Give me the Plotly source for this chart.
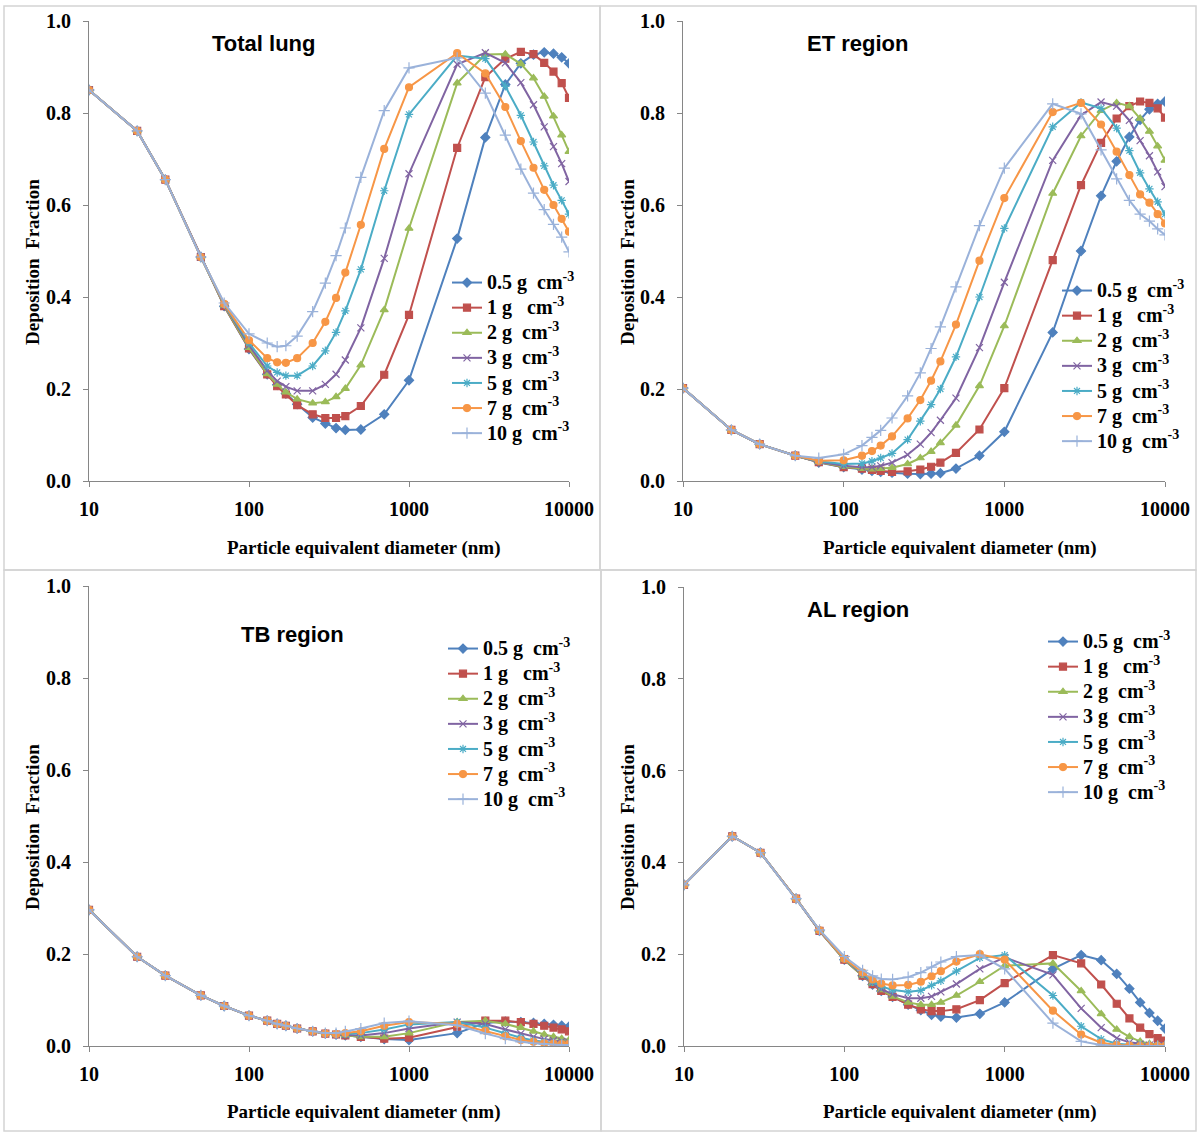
import plotly.graph_objects as go

W, H = 1199, 1133

diameter_nm = [10, 20, 30, 50, 70, 100, 130, 150, 170, 200, 250, 300, 350, 400, 500, 700,
               1000, 2000, 3000, 4000, 5000, 6000, 7000, 8000, 9000, 10000]

density_labels = ["0.5 g  cm<sup>-3</sup>", "1 g   cm<sup>-3</sup>", "2 g  cm<sup>-3</sup>",
                  "3 g  cm<sup>-3</sup>", "5 g  cm<sup>-3</sup>", "7 g  cm<sup>-3</sup>",
                  "10 g  cm<sup>-3</sup>"]

# Total lung
total_05 = [0.850, 0.761, 0.655, 0.487, 0.380, 0.287, 0.232, 0.209, 0.190, 0.167, 0.138, 0.125, 0.115, 0.111, 0.112, 0.145, 0.219, 0.527, 0.747, 0.862, 0.908, 0.927, 0.932, 0.929, 0.921, 0.908]
total_1 = [0.850, 0.761, 0.655, 0.487, 0.380, 0.288, 0.232, 0.206, 0.188, 0.165, 0.145, 0.137, 0.137, 0.141, 0.163, 0.231, 0.361, 0.724, 0.878, 0.918, 0.933, 0.928, 0.909, 0.890, 0.865, 0.833]
total_2 = [0.850, 0.761, 0.655, 0.487, 0.381, 0.290, 0.233, 0.210, 0.193, 0.178, 0.169, 0.172, 0.183, 0.201, 0.252, 0.372, 0.549, 0.865, 0.927, 0.928, 0.907, 0.876, 0.836, 0.793, 0.752, 0.716]
total_3 = [0.850, 0.761, 0.655, 0.487, 0.383, 0.295, 0.240, 0.217, 0.205, 0.196, 0.196, 0.210, 0.232, 0.263, 0.333, 0.484, 0.668, 0.906, 0.931, 0.909, 0.866, 0.818, 0.770, 0.727, 0.690, 0.651]
total_5 = [0.850, 0.761, 0.655, 0.487, 0.384, 0.300, 0.250, 0.236, 0.229, 0.229, 0.250, 0.283, 0.323, 0.370, 0.460, 0.631, 0.797, 0.925, 0.918, 0.858, 0.795, 0.737, 0.685, 0.643, 0.610, 0.580]
total_7 = [0.850, 0.761, 0.655, 0.487, 0.385, 0.306, 0.267, 0.258, 0.257, 0.267, 0.300, 0.346, 0.398, 0.453, 0.557, 0.722, 0.856, 0.930, 0.886, 0.813, 0.739, 0.681, 0.633, 0.600, 0.570, 0.542]
total_10 = [0.850, 0.761, 0.655, 0.487, 0.387, 0.320, 0.300, 0.292, 0.294, 0.315, 0.368, 0.430, 0.490, 0.550, 0.660, 0.805, 0.898, 0.920, 0.843, 0.752, 0.678, 0.626, 0.590, 0.558, 0.530, 0.498]

# ET region
et_05 = [0.202, 0.111, 0.080, 0.055, 0.040, 0.030, 0.025, 0.022, 0.020, 0.018, 0.016, 0.015, 0.016, 0.017, 0.027, 0.055, 0.107, 0.323, 0.500, 0.620, 0.695, 0.748, 0.785, 0.808, 0.820, 0.825]
et_1 = [0.202, 0.111, 0.080, 0.055, 0.041, 0.030, 0.027, 0.024, 0.022, 0.020, 0.021, 0.025, 0.031, 0.040, 0.061, 0.112, 0.202, 0.480, 0.643, 0.735, 0.788, 0.815, 0.825, 0.822, 0.810, 0.790]
et_2 = [0.202, 0.111, 0.080, 0.055, 0.041, 0.031, 0.027, 0.026, 0.027, 0.029, 0.037, 0.050, 0.064, 0.083, 0.121, 0.207, 0.337, 0.625, 0.750, 0.805, 0.822, 0.815, 0.788, 0.760, 0.728, 0.697]
et_3 = [0.202, 0.111, 0.080, 0.055, 0.042, 0.033, 0.030, 0.030, 0.033, 0.040, 0.057, 0.080, 0.105, 0.132, 0.180, 0.290, 0.432, 0.697, 0.795, 0.824, 0.815, 0.784, 0.740, 0.707, 0.672, 0.640]
et_5 = [0.202, 0.111, 0.080, 0.055, 0.043, 0.037, 0.038, 0.043, 0.050, 0.060, 0.090, 0.130, 0.166, 0.200, 0.270, 0.400, 0.549, 0.770, 0.823, 0.810, 0.767, 0.718, 0.670, 0.635, 0.607, 0.580]
et_7 = [0.202, 0.111, 0.080, 0.055, 0.044, 0.045, 0.055, 0.065, 0.077, 0.097, 0.136, 0.176, 0.218, 0.260, 0.340, 0.479, 0.615, 0.802, 0.822, 0.775, 0.716, 0.665, 0.623, 0.605, 0.580, 0.560]
et_10 = [0.202, 0.111, 0.080, 0.055, 0.050, 0.058, 0.077, 0.095, 0.110, 0.137, 0.185, 0.235, 0.288, 0.335, 0.422, 0.555, 0.680, 0.820, 0.798, 0.720, 0.657, 0.610, 0.580, 0.565, 0.548, 0.535]

# TB region
tb_05 = [0.296, 0.194, 0.153, 0.110, 0.087, 0.066, 0.055, 0.048, 0.044, 0.038, 0.032, 0.027, 0.025, 0.023, 0.020, 0.015, 0.013, 0.028, 0.050, 0.053, 0.052, 0.050, 0.048, 0.046, 0.044, 0.042]
tb_1 = [0.296, 0.194, 0.153, 0.110, 0.087, 0.066, 0.055, 0.048, 0.044, 0.038, 0.032, 0.027, 0.025, 0.023, 0.020, 0.016, 0.018, 0.042, 0.055, 0.055, 0.052, 0.048, 0.044, 0.040, 0.036, 0.032]
tb_2 = [0.296, 0.194, 0.153, 0.110, 0.087, 0.066, 0.055, 0.048, 0.044, 0.038, 0.032, 0.027, 0.025, 0.023, 0.020, 0.020, 0.028, 0.052, 0.055, 0.048, 0.040, 0.032, 0.025, 0.020, 0.016, 0.013]
tb_3 = [0.296, 0.194, 0.153, 0.110, 0.087, 0.066, 0.055, 0.048, 0.044, 0.038, 0.032, 0.027, 0.025, 0.024, 0.023, 0.028, 0.038, 0.052, 0.048, 0.036, 0.027, 0.020, 0.015, 0.012, 0.010, 0.008]
tb_5 = [0.296, 0.194, 0.153, 0.110, 0.087, 0.066, 0.055, 0.048, 0.044, 0.038, 0.032, 0.027, 0.026, 0.026, 0.028, 0.036, 0.047, 0.052, 0.040, 0.027, 0.018, 0.012, 0.009, 0.007, 0.005, 0.004]
tb_7 = [0.296, 0.194, 0.153, 0.110, 0.087, 0.066, 0.055, 0.048, 0.044, 0.038, 0.032, 0.027, 0.026, 0.028, 0.032, 0.044, 0.052, 0.048, 0.033, 0.021, 0.013, 0.009, 0.006, 0.005, 0.004, 0.004]
tb_10 = [0.296, 0.194, 0.153, 0.110, 0.087, 0.066, 0.055, 0.048, 0.044, 0.038, 0.032, 0.028, 0.028, 0.032, 0.038, 0.050, 0.054, 0.045, 0.027, 0.016, 0.009, 0.006, 0.004, 0.003, 0.002, 0.002]

# AL region
al_05 = [0.351, 0.457, 0.421, 0.321, 0.251, 0.188, 0.153, 0.134, 0.120, 0.107, 0.090, 0.078, 0.068, 0.064, 0.062, 0.070, 0.095, 0.168, 0.198, 0.187, 0.157, 0.125, 0.095, 0.072, 0.055, 0.038]
al_1 = [0.351, 0.457, 0.421, 0.321, 0.251, 0.188, 0.153, 0.135, 0.120, 0.107, 0.090, 0.080, 0.076, 0.076, 0.080, 0.100, 0.137, 0.198, 0.180, 0.134, 0.092, 0.060, 0.040, 0.026, 0.017, 0.012]
al_2 = [0.351, 0.457, 0.421, 0.321, 0.251, 0.188, 0.153, 0.136, 0.122, 0.108, 0.095, 0.090, 0.090, 0.095, 0.110, 0.140, 0.175, 0.180, 0.120, 0.070, 0.036, 0.020, 0.010, 0.005, 0.003, 0.002]
al_3 = [0.351, 0.457, 0.421, 0.321, 0.251, 0.190, 0.155, 0.137, 0.124, 0.113, 0.104, 0.104, 0.108, 0.118, 0.135, 0.168, 0.193, 0.155, 0.082, 0.040, 0.017, 0.008, 0.004, 0.002, 0.001, 0.001]
al_5 = [0.351, 0.457, 0.421, 0.321, 0.252, 0.190, 0.158, 0.140, 0.130, 0.122, 0.118, 0.121, 0.132, 0.142, 0.163, 0.192, 0.198, 0.110, 0.043, 0.015, 0.005, 0.002, 0.001, 0.000, 0.000, 0.000]
al_7 = [0.351, 0.457, 0.421, 0.321, 0.252, 0.190, 0.160, 0.145, 0.136, 0.132, 0.133, 0.140, 0.152, 0.163, 0.184, 0.200, 0.188, 0.077, 0.025, 0.007, 0.002, 0.001, 0.000, 0.000, 0.000, 0.000]
al_10 = [0.351, 0.457, 0.421, 0.321, 0.253, 0.195, 0.165, 0.153, 0.146, 0.145, 0.150, 0.160, 0.172, 0.183, 0.195, 0.198, 0.168, 0.050, 0.010, 0.002, 0.000, 0.000, 0.000, 0.000, 0.000, 0.000]

panel_titles = ["Total lung", "ET region", "TB region", "AL region"]
y_ticks = [0.0, 0.2, 0.4, 0.6, 0.8, 1.0]
x_ticks = [10, 100, 1000, 10000]
x_title = "Particle equivalent diameter (nm)"
y_title = "Deposition  Fraction"

panels = [
    [total_05, total_1, total_2, total_3, total_5, total_7, total_10],
    [et_05, et_1, et_2, et_3, et_5, et_7, et_10],
    [tb_05, tb_1, tb_2, tb_3, tb_5, tb_7, tb_10],
    [al_05, al_1, al_2, al_3, al_5, al_7, al_10],
]

colors = ["#4F81BD", "#C0504D", "#9BBB59", "#8064A2", "#4BACC6", "#F79646", "#9AB2DA"]
symbols = ["diamond", "square", "triangle-up", "x-thin", "asterisk", "circle", "cross-thin"]
msizes = [7, 7, 7, 7, 7, 7, 8]


def px(x):
    return x / W


def py(y):
    return 1 - y / H


# plot areas in pixels: (left, right, top, bottom)
areas = [(89, 569, 21, 481), (683, 1165, 21, 481), (89, 569, 586, 1046), (684, 1165, 587, 1046)]
legend_pos = [(447, 265), (1057, 273), (443, 631), (1043, 624)]
title_pos = [(263, 44), (857, 44), (292, 634), (858, 609)]
xtitle_pos = [(364, 548), (960, 548), (364, 1112), (960, 1112)]
ytitle_pos = [(32, 262), (627, 262), (32, 827), (627, 827)]

serif = "Liberation Serif, Times New Roman, serif"
sans = "Liberation Sans, Arial, sans-serif"
axis_grey = "#868686"

fig = go.Figure()
layout = dict(width=W, height=H, margin=dict(l=0, r=0, t=0, b=0, autoexpand=False),
              paper_bgcolor="white", plot_bgcolor="white", showlegend=True)
annotations = []
shapes = []

for p in range(4):
    sfx = "" if p == 0 else str(p + 1)
    leg = "legend" if p == 0 else "legend" + str(p + 1)
    for i, ys in enumerate(panels[p]):
        fig.add_trace(go.Scatter(
            x=diameter_nm, y=ys, mode="lines+markers",
            name='<span style="font-size:20px">' + density_labels[i] + "</span>",
            xaxis="x" + sfx, yaxis="y" + sfx, legend=leg,
            line=dict(color=colors[i], width=2),
            marker=dict(symbol=symbols[i], size=msizes[i], color=colors[i],
                        line=dict(color=colors[i], width=1.2)),
        ))
    l, r, t, b = areas[p]
    layout["xaxis" + sfx] = dict(
        type="log", range=[1, 4], domain=[px(l), px(r)], anchor="y" + sfx,
        tickvals=x_ticks, ticktext=[str(v) for v in x_ticks],
        showline=True, linecolor=axis_grey, linewidth=1,
        ticks="outside", ticklen=5, tickcolor=axis_grey, showgrid=False, zeroline=False,
        tickfont=dict(family=serif, size=20, color="black", weight="bold"),
        ticklabelstandoff=5, automargin=False,
    )
    layout["yaxis" + sfx] = dict(
        range=[0, 1], domain=[py(b), py(t)], anchor="x" + sfx,
        tickvals=y_ticks, ticktext=["%.1f" % v for v in y_ticks],
        showline=True, linecolor=axis_grey, linewidth=1,
        ticks="outside", ticklen=5, tickcolor=axis_grey, showgrid=False, zeroline=False,
        tickfont=dict(family=serif, size=20, color="black", weight="bold"),
        ticklabelstandoff=8, automargin=False,
    )
    lx, ly = legend_pos[p]
    layout[leg] = dict(
        x=px(lx), y=py(ly), xanchor="left", yanchor="top", xref="paper", yref="paper",
        bgcolor="rgba(0,0,0,0)", borderwidth=0,
        font=dict(family=serif, size=17, color="black", weight="bold"),
        itemwidth=30, tracegroupgap=0,
    )
    tx, ty = title_pos[p]
    annotations.append(dict(x=px(tx), y=py(ty), xref="paper", yref="paper", text=panel_titles[p],
                            showarrow=False, xanchor="center", yanchor="middle",
                            font=dict(family=sans, size=22, color="black", weight="bold")))
    xx, xy = xtitle_pos[p]
    annotations.append(dict(x=px(xx), y=py(xy), xref="paper", yref="paper", text=x_title,
                            showarrow=False, xanchor="center", yanchor="middle",
                            font=dict(family=serif, size=19, color="black", weight="bold")))
    yx, yy = ytitle_pos[p]
    annotations.append(dict(x=px(yx), y=py(yy), xref="paper", yref="paper", text=y_title,
                            showarrow=False, xanchor="center", yanchor="middle", textangle=-90,
                            font=dict(family=serif, size=19, color="black", weight="bold")))

frames = [(4, 6, 600, 570), (600, 6, 1196, 570), (4, 570, 601, 1131), (601, 570, 1196, 1131)]
for (x0, y0, x1, y1) in frames:
    shapes.append(dict(type="rect", xref="paper", yref="paper",
                       x0=px(x0), x1=px(x1), y0=py(y1), y1=py(y0),
                       line=dict(color="#D4D4D4", width=1.5), fillcolor="rgba(0,0,0,0)", layer="below"))

layout["annotations"] = annotations
layout["shapes"] = shapes
fig.update_layout(**layout)
fig.write_html("out.html", config={"displayModeBar": False},
               post_script="document.body.style.margin='0px';document.body.style.overflow='hidden';")
